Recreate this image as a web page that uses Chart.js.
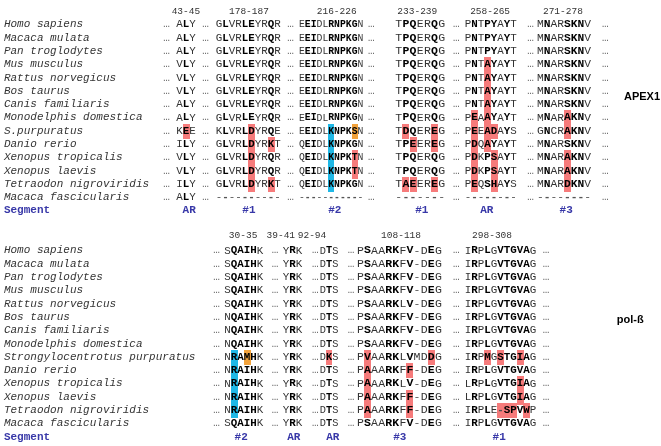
<!DOCTYPE html>
<html>
<head>
<meta charset="utf-8">
<script src="https://cdn.jsdelivr.net/npm/chart.js@4.4.1/dist/chart.umd.min.js"></script>
<style>
  html, body { margin: 0; padding: 0; background: #fff; }
  canvas { display: block; }
</style>
</head>
<body>
<canvas id="myChart" width="661" height="446"></canvas>
<script>
// species shown in both blocks (row 8 differs in name)
const apexSpecies = ["Homo sapiens", "Macaca mulata", "Pan troglodytes", "Mus musculus", "Rattus norvegicus", "Bos taurus", "Canis familiaris", "Monodelphis domestica", "S.purpuratus", "Danio rerio", "Xenopus tropicalis", "Xenopus laevis", "Tetraodon nigroviridis", "Macaca fascicularis"];
const polbSpecies = ["Homo sapiens", "Macaca mulata", "Pan troglodytes", "Mus musculus", "Rattus norvegicus", "Bos taurus", "Canis familiaris", "Monodelphis domestica", "Strongylocentrotus purpuratus", "Danio rerio", "Xenopus tropicalis", "Xenopus laevis", "Tetraodon nigroviridis", "Macaca fascicularis"];

// APEX1
const apexRanges = ["43-45", "178-187", "216-226", "233-239", "258-265", "271-278"];
const apexSegments = ["AR", "#1", "#2", "#1", "AR", "#3"];
const apexBold = ["010", "0100110010", "01100111110", "0110010", "01011010", "01001110"];
const apexSeqs = [
  ["ALY", "GLVRLEYRQR", "EEIDLRNPKGN", "TPQERQG", "PNTPYAYT", "MNARSKNV"],
  ["ALY", "GLVRLEYRQR", "EEIDLRNPKGN", "TPQERQG", "PNTPYAYT", "MNARSKNV"],
  ["ALY", "GLVRLEYRQR", "EEIDLRNPKGN", "TPQERQG", "PNTPYAYT", "MNARSKNV"],
  ["VLY", "GLVRLEYRQR", "EEIDLRNPKGN", "TPQERQG", "PNTAYAYT", "MNARSKNV"],
  ["VLY", "GLVRLEYRQR", "EEIDLRNPKGN", "TPQERQG", "PNTAYAYT", "MNARSKNV"],
  ["VLY", "GLVRLEYRQR", "EEIDLRNPKGN", "TPQERQG", "PNTAYAYT", "MNARSKNV"],
  ["ALY", "GLVRLEYRQR", "EEIDLRNPKGN", "TPQERQG", "PNTAYAYT", "MNARSKNV"],
  ["ALY", "GLVRLEYRQR", "EEIDLRNPKGN", "TPQERQG", "PEAAYAYT", "MNARAKNV"],
  ["KEE", "KLVRLDYRQE", "EEIDLKNPKSN", "TDQEREG", "PEEADAYS", "GNCRAKNV"],
  ["ILY", "GLVRLDYRKT", "QEIDLKNPKGN", "TPEEREG", "PDQAYAYT", "MNARSKNV"],
  ["VLY", "GLVRLDYRQR", "QEIDLKNPKTN", "TPQERQG", "PDKPSAYT", "MNARAKNV"],
  ["VLY", "GLVRLDYRQR", "QEIDLKNPKTN", "TPQERQG", "PDKPSAYT", "MNARAKNV"],
  ["ILY", "GLVRLDYRKT", "QEIDLKNPKGN", "TAEEREG", "PEQSHAYS", "MNARDKNV"],
  ["ALY", "----------", "-----------", "-------", "--------", "--------"]
];
// highlighted residues: [firstRow, lastRow, segment, position, colour]
const apexMarks = [
  [8, 8, 0, 1, "r"],
  [8, 12, 1, 5, "r"], [9, 9, 1, 8, "r"], [12, 12, 1, 8, "r"],
  [8, 12, 2, 5, "c"], [8, 8, 2, 9, "o"], [10, 11, 2, 9, "r"],
  [8, 8, 3, 1, "r"], [9, 9, 3, 2, "r"], [12, 12, 3, 1, "r"], [12, 12, 3, 2, "r"],
  [8, 9, 3, 5, "r"], [12, 12, 3, 5, "r"],
  [3, 9, 4, 3, "r"], [7, 12, 4, 1, "r"], [8, 8, 4, 4, "r"], [10, 12, 4, 4, "r"],
  [7, 8, 5, 4, "r"], [10, 12, 5, 4, "r"]
];

// pol-beta
const polbRanges = ["30-35", "39-41", "92-94", "108-118", "298-308"];
const polbSegments = ["#2", "AR", "AR", "#3", "#1"];
const polbBold = ["011110", "010", "010", "010011010010", "01010111110"];
const polbSeqs = [
  ["SQAIHK", "YRK", "DTS", "PSAARKFV-DEG", "IRPLGVTGVAG"],
  ["SQAIHK", "YRK", "DTS", "PSAARKFV-DEG", "IRPLGVTGVAG"],
  ["SQAIHK", "YRK", "DTS", "PSAARKFV-DEG", "IRPLGVTGVAG"],
  ["SQAIHK", "YRK", "DTS", "PSAARKFV-DEG", "IRPLGVTGVAG"],
  ["SQAIHK", "YRK", "DTS", "PSAARKLV-DEG", "IRPLGVTGVAG"],
  ["NQAIHK", "YRK", "DTS", "PSAARKFV-DEG", "IRPLGVTGVAG"],
  ["NQAIHK", "YRK", "DTS", "PSAARKFV-DEG", "IRPLGVTGVAG"],
  ["NQAIHK", "YRK", "DTS", "PSAARKFV-DEG", "IRPLGVTGVAG"],
  ["NRAMHK", "YRK", "DKS", "PVAARKLVMDDG", "IRPMGSTGIAG"],
  ["NRAIHK", "YRK", "DTS", "PAAARKFF-DEG", "IRPLGVTGVAG"],
  ["NRAIHK", "YRK", "DTS", "PAAARKLV-DEG", "LRPLGVTGIAG"],
  ["NRAIHK", "YRK", "DTS", "PAAARKFF-DEG", "LRPLGVTGIAG"],
  ["NRAIHK", "YRK", "DTS", "PAAARKFF-DEG", "IRPLE-SPVWP"],
  ["SQAIHK", "YRK", "DTS", "PSAARKFV-DEG", "IRPLGVTGVAG"]
];
const polbMarks = [
  [8, 12, 0, 1, "c"], [8, 8, 0, 3, "o"],
  [8, 8, 2, 1, "r"],
  [8, 12, 3, 1, "r"], [9, 9, 3, 7, "r"], [11, 12, 3, 7, "r"], [8, 8, 3, 10, "r"],
  [8, 8, 4, 3, "r"], [8, 8, 4, 5, "r"], [8, 8, 4, 8, "r"], [10, 11, 4, 8, "r"],
  [12, 12, 4, 5, "r"], [12, 12, 4, 6, "r"], [12, 12, 4, 7, "r"], [12, 12, 4, 9, "r"]
];

// layout, in character columns (x) and text lines (y)
const COL_PX = 6.5, LINE_PX = 13.3, RES_FONT = 11.5;
const apexLayout = {
  head: 0.9, first: 1.8,
  starts: [27.1, 33.2, 46.0, 60.8, 71.5, 82.6],
  pitch: [1.0, 1.0, 0.9, 1.1, 1.0, 1.04],
  dots: [25.1, 31.1, 44.2, 56.6, 69.7, 81.1, 92.6],
  heads: [28.6, 38.3, 51.8, 64.2, 75.4, 86.6],
  labels: [29.1, 38.3, 51.5, 64.9, 74.9, 87.1],
  tag: { text: "APEX1", x: 96.0, y: 7.3 }
};
const polbLayout = {
  head: 17.67, first: 18.8,
  starts: [34.5, 43.5, 49.2, 54.9, 71.5],
  pitch: [1.0, 1.0, 0.95, 1.09, 1.0],
  dots: [32.8, 41.8, 48.0, 53.5, 69.7, 83.5],
  heads: [37.4, 43.2, 48.0, 61.7, 75.7],
  labels: [37.1, 45.2, 51.2, 61.5, 76.8],
  tag: { text: "pol-\u00df", x: 94.9, y: 24.06 }
};

const HL = { r: "#f67b7b", c: "#1fb8e6", o: "#f2a23a" };
const SEG_BLUE = "#3838a8";
const MONO = '"Liberation Mono", "DejaVu Sans Mono", monospace';

function buildCells(seqs, bold, marks, lay) {
  const pts = [];
  seqs.forEach(function (row, r) {
    row.forEach(function (s, k) {
      const w = lay.pitch[k];
      for (let i = 0; i < s.length; i++) {
        const m = marks.find(function (q) {
          return r >= q[0] && r <= q[1] && q[2] === k && q[3] === i;
        });
        pts.push({
          x: lay.starts[k] + (i + 0.5) * w,
          y: lay.first + r,
          w: w,
          ch: s[i],
          bold: bold[k][i] === "1" || !!m,
          hl: m ? m[4] : null
        });
      }
    });
  });
  return pts;
}

const blocks = [
  { species: apexSpecies, ranges: apexRanges, segs: apexSegments, lay: apexLayout },
  { species: polbSpecies, ranges: polbRanges, segs: polbSegments, lay: polbLayout }
];

const alignmentPlugin = {
  id: "alignment",
  beforeDatasetsDraw(chart) {
    const ctx = chart.ctx;
    const xs = chart.scales.x, ys = chart.scales.y;
    const cw = xs.getPixelForValue(1) - xs.getPixelForValue(0);
    const rh = ys.getPixelForValue(1) - ys.getPixelForValue(0);
    chart.data.datasets.forEach(function (ds, di) {
      chart.getDatasetMeta(di).data.forEach(function (el, i) {
        const p = ds.data[i];
        if (!p.hl) return;
        const w = cw * p.w;
        ctx.fillStyle = HL[p.hl];
        ctx.fillRect(Math.round(el.x - w / 2), Math.round(el.y - rh / 2), Math.round(w), Math.ceil(rh) + 1);
      });
    });
  },
  afterDatasetsDraw(chart) {
    const ctx = chart.ctx;
    const xs = chart.scales.x, ys = chart.scales.y;
    const cw = xs.getPixelForValue(1) - xs.getPixelForValue(0);
    ctx.save();
    ctx.textBaseline = "middle";

    // residues, squeezed to the column pitch
    ctx.textAlign = "center";
    chart.data.datasets.forEach(function (ds, di) {
      chart.getDatasetMeta(di).data.forEach(function (el, i) {
        const p = ds.data[i];
        const sx = Math.min(1, (cw * p.w) / (0.6 * RES_FONT));
        ctx.font = (p.bold ? "bold " : "") + RES_FONT + "px " + MONO;
        ctx.fillStyle = p.ch === "-" ? "#555" : (p.bold ? "#000" : "#333");
        ctx.save();
        ctx.translate(el.x, el.y + 0.5);
        ctx.scale(sx, 1);
        ctx.fillText(p.ch, 0, 0);
        ctx.restore();
      });
    });

    blocks.forEach(function (b) {
      const lay = b.lay;
      // species names
      ctx.textAlign = "left";
      ctx.font = "italic 11px " + MONO;
      ctx.fillStyle = "#333";
      b.species.forEach(function (name, r) {
        ctx.fillText(name, xs.getPixelForValue(0.6), ys.getPixelForValue(lay.first + r) + 0.5);
      });
      // ellipses
      ctx.font = "11px " + MONO;
      ctx.fillStyle = "#666";
      b.species.forEach(function (name, r) {
        lay.dots.forEach(function (d) {
          ctx.fillText("\u2026", xs.getPixelForValue(d), ys.getPixelForValue(lay.first + r) + 0.5);
        });
      });
      // range headers
      ctx.textAlign = "center";
      ctx.font = "9.5px " + MONO;
      ctx.fillStyle = "#333";
      b.ranges.forEach(function (t, k) {
        ctx.fillText(t, xs.getPixelForValue(lay.heads[k]), ys.getPixelForValue(lay.head));
      });
      // segment row
      const segY = ys.getPixelForValue(lay.first + b.species.length) + 0.5;
      ctx.font = "bold 11px " + MONO;
      ctx.fillStyle = SEG_BLUE;
      b.segs.forEach(function (t, k) {
        ctx.fillText(t, xs.getPixelForValue(lay.labels[k]), segY);
      });
      ctx.textAlign = "left";
      ctx.fillText("Segment", xs.getPixelForValue(0.6), segY);
      // protein tag
      ctx.font = 'bold 11px "Liberation Sans", Arial, sans-serif';
      ctx.fillStyle = "#000";
      ctx.fillText(lay.tag.text, xs.getPixelForValue(lay.tag.x), ys.getPixelForValue(lay.tag.y));
    });
    ctx.restore();
  }
};

const myChart = new Chart(document.getElementById("myChart"), {
  type: "scatter",
  data: {
    datasets: [
      { label: "APEX1", data: buildCells(apexSeqs, apexBold, apexMarks, apexLayout), pointRadius: 0 },
      { label: "pol-\u00df", data: buildCells(polbSeqs, polbBold, polbMarks, polbLayout), pointRadius: 0 }
    ]
  },
  options: {
    responsive: false,
    animation: false,
    layout: { padding: 0 },
    plugins: { legend: { display: false }, tooltip: { enabled: false } },
    scales: {
      x: { type: "linear", display: false, min: 0, max: 661 / COL_PX },
      y: { type: "linear", display: false, reverse: true, min: 0, max: 446 / LINE_PX }
    }
  },
  plugins: [alignmentPlugin]
});
</script>
</body>
</html>
